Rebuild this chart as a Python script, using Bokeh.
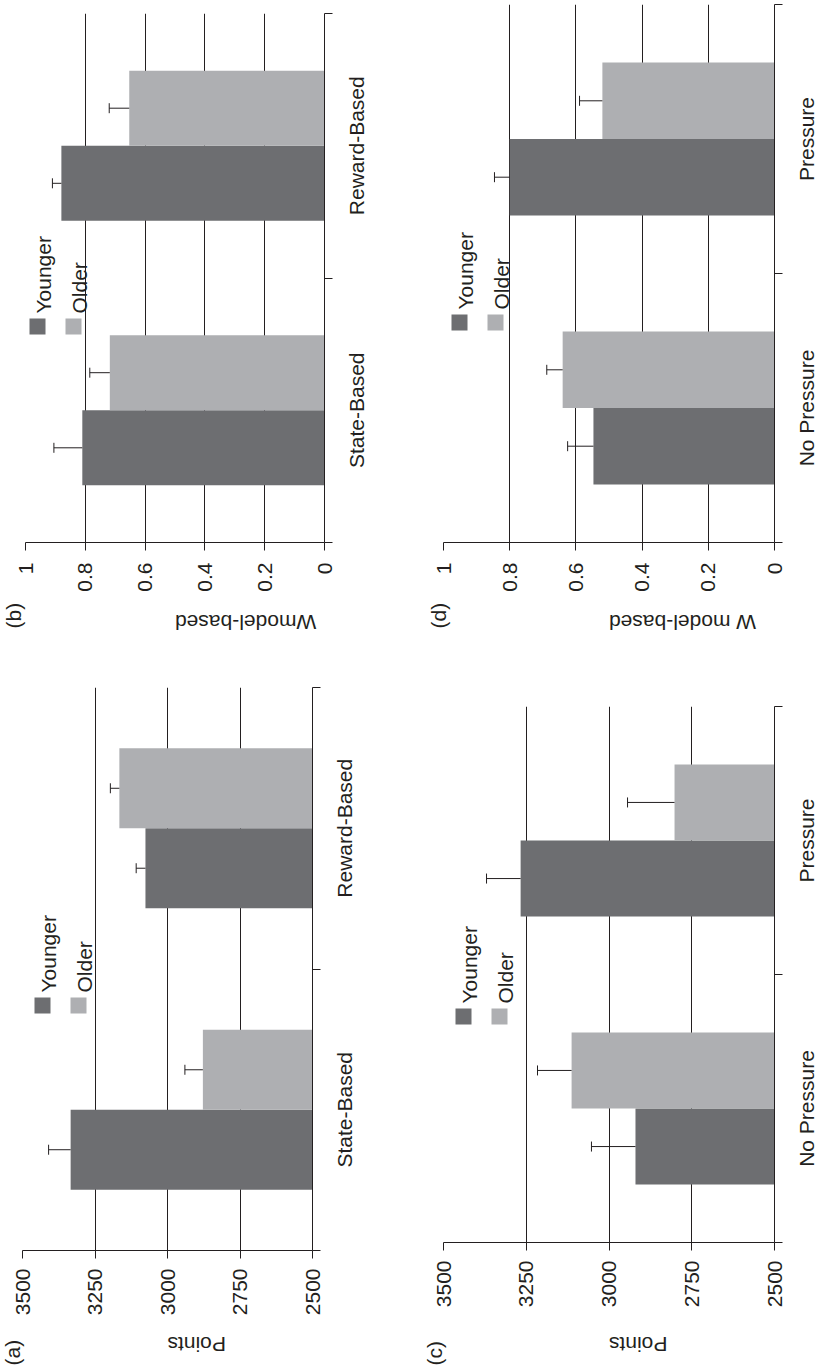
import math
from bokeh.plotting import figure
from bokeh.models import (Range1d, FixedTicker, LinearAxis, ColumnDataSource,
                          Whisker, TeeHead, Label, BoxAnnotation)
from bokeh.layouts import row, column
from bokeh.embed import file_html
from bokeh.resources import INLINE

# ---------------- data ----------------
groups = ["Younger", "Older"]
cats_task = ["State-Based", "Reward-Based"]
cats_pressure = ["No Pressure", "Pressure"]

# (a) Points by task type
a_younger = [3334, 3076]
a_younger_err = [76, 32]
a_older = [2878, 3166]
a_older_err = [62, 31]

# (b) W model-based by task type
b_younger = [0.81, 0.88]
b_younger_err = [0.095, 0.03]
b_older = [0.718, 0.653]
b_older_err = [0.067, 0.067]

# (c) Points by pressure
c_younger = [2920, 3267]
c_younger_err = [133, 103]
c_older = [3113, 2802]
c_older_err = [103, 142]

# (d) W model-based by pressure
d_younger = [0.547, 0.80]
d_younger_err = [0.078, 0.046]
d_older = [0.64, 0.52]
d_older_err = [0.048, 0.069]

points_ticks = [2500, 2750, 3000, 3250, 3500]
points_tick_labels = ["2500", "2750", "3000", "3250", "3500"]
w_ticks = [0, 0.2, 0.4, 0.6, 0.8, 1]
w_tick_labels = ["0", "0.2", "0.4", "0.6", "0.8", "1"]

# ---------------- style ----------------
FONT = "Liberation Sans"
FS = "21px"
INK = "#231f20"
DARK = "#6d6e71"
LIGHT = "#aeafb2"
BAR_H = 0.284


def panel(letter, cats, young, young_err, old, old_err, ticks, tick_labels,
          vlabel, g):
    vmin, vmax = ticks[0], ticks[-1]
    n = len(cats)
    p = figure(x_range=Range1d(vmax, vmin), y_range=Range1d(0, n),
               width=g["w"], height=g["h"],
               min_border_left=g["l"], min_border_right=g["r"],
               min_border_top=g["t"], min_border_bottom=g["b"],
               toolbar_location=None, output_backend="svg",
               y_axis_location=None)
    if "frame_align" in p.properties():
        p.frame_align = False
    p.outline_line_color = None
    p.background_fill_color = "white"
    p.border_fill_color = "white"
    p.ygrid.visible = False
    p.xgrid.ticker = FixedTicker(ticks=ticks)
    p.xgrid.grid_line_color = INK
    p.xgrid.grid_line_width = 1

    ax = p.xaxis[0]
    ax.ticker = FixedTicker(ticks=ticks)
    ax.major_label_overrides = dict(zip(ticks, tick_labels))
    ax.major_label_orientation = math.pi / 2
    ax.major_tick_out = 8
    ax.major_tick_in = 0
    ax.minor_tick_out = 0
    ax.minor_tick_in = 0
    ax.axis_line_color = INK
    ax.major_tick_line_color = INK
    ax.major_label_text_font = FONT
    ax.major_label_text_font_size = FS
    ax.major_label_text_color = INK
    ax.major_label_standoff = g["tls"]
    ax.axis_label = vlabel
    ax.axis_label_orientation = math.pi
    ax.axis_label_standoff = g["als"]
    ax.axis_label_text_font = FONT
    ax.axis_label_text_font_size = FS
    ax.axis_label_text_font_style = "normal"
    ax.axis_label_text_color = INK

    # category axis: ticks at the category boundaries
    ax1 = LinearAxis(ticker=FixedTicker(ticks=list(range(n + 1))),
                     major_tick_out=8, major_tick_in=0,
                     minor_tick_out=0, minor_tick_in=0,
                     major_label_text_color=None, major_label_text_font_size="1px",
                     major_label_standoff=0,
                     axis_line_color=INK, major_tick_line_color=INK)
    p.add_layout(ax1, "right")
    # category names at the group centres (held in a side panel, so not clipped)
    for i, c in enumerate(cats):
        p.add_layout(Label(x=vmin, y=i + 0.5, x_offset=g["cx"],
                           text=c, angle=math.pi / 2, text_align="center",
                           text_baseline="alphabetic", text_font=FONT,
                           text_font_size=FS, text_color=INK), g["cside"])
    # panel letter in the lower-left corner
    p.add_layout(Label(x=vmax, y=0, x_offset=g["ltx"], y_offset=g["lty"],
                       text=letter, angle=math.pi / 2, text_align="left",
                       text_baseline="alphabetic", text_font=FONT,
                       text_font_size=FS, text_color=INK), g["lside"])

    for k, (vals, errs, col, off) in enumerate(
            [(young, young_err, DARK, -BAR_H / 2), (old, old_err, LIGHT, BAR_H / 2)]):
        ys = [i + 0.5 + off for i in range(n)]
        src = ColumnDataSource(dict(y=ys, v=vals, up=[v + e for v, e in zip(vals, errs)],
                                    base=[vmin] * n, cat=cats, grp=[groups[k]] * n))
        p.hbar(y="y", left="base", right="v", height=BAR_H, source=src,
               fill_color=col, line_color=None)
        w = Whisker(source=src, base="y", lower="v", upper="up", dimension="width",
                    line_color=INK, line_width=1, level="glyph",
                    upper_head=TeeHead(size=10, line_color=INK, line_width=1),
                    lower_head=None)
        p.add_layout(w)

    # legend (rotated with the figure)
    for k, col in enumerate([DARK, LIGHT]):
        lx = g["lgx"] + 36 * k
        ly = g["lgy"]
        p.add_layout(BoxAnnotation(left=lx, right=lx + 16, bottom=ly, top=ly + 16,
                                   left_units="screen", right_units="screen",
                                   top_units="screen", bottom_units="screen",
                                   fill_color=col, fill_alpha=1, line_color=None,
                                   level="annotation"))
        p.add_layout(Label(x=lx + 14, y=ly + 21, x_units="screen", y_units="screen",
                           text=groups[k], angle=math.pi / 2, text_align="left",
                           text_baseline="alphabetic", text_font=FONT,
                           text_font_size=FS, text_color=INK))
    return p


# geometry: figure size, borders, offsets
geo_b = dict(w=392, h=680, l=25, t=13, r=68, b=138, tls=12, als=28,
             lgx=4, lgy=208, ltx=-12, lty=-86, lside="below", cx=32, cside="right")
geo_d = dict(w=427, h=680, l=51, t=4, r=45, b=138, tls=12, als=28,
             lgx=8, lgy=212, ltx=-5, lty=-86, lside="below", cx=32, cside="left")
geo_a = dict(w=392, h=692, l=22, t=7, r=80, b=122, tls=10, als=26,
             lgx=12, lgy=237, ltx=-10, lty=-115, lside="right", cx=32, cside="right")
geo_c = dict(w=427, h=692, l=51, t=26, r=45, b=130, tls=10, als=34,
             lgx=12, lgy=218, ltx=-9, lty=-123, lside="above", cx=32, cside="left")

pb = panel("(b)", cats_task, b_younger, b_younger_err, b_older, b_older_err,
           w_ticks, w_tick_labels, "Wmodel-based", geo_b)
pd_ = panel("(d)", cats_pressure, d_younger, d_younger_err, d_older, d_older_err,
            w_ticks, w_tick_labels, "W model-based", geo_d)
pa = panel("(a)", cats_task, a_younger, a_younger_err, a_older, a_older_err,
           points_ticks, points_tick_labels, "Points", geo_a)
pc = panel("(c)", cats_pressure, c_younger, c_younger_err, c_older, c_older_err,
           points_ticks, points_tick_labels, "Points", geo_c)

layout = column(row(pb, pd_), row(pa, pc))
open("out.html", "w").write(file_html(layout, INLINE))
